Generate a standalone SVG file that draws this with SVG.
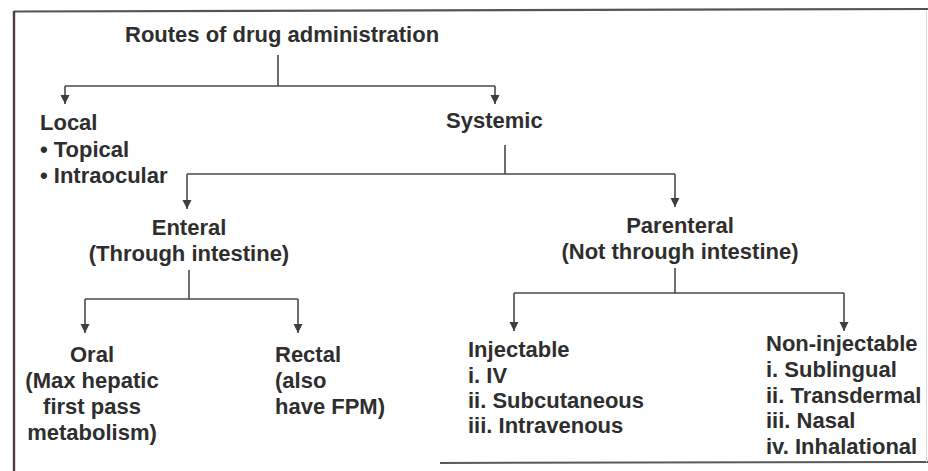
<svg xmlns="http://www.w3.org/2000/svg" width="928" height="471" viewBox="0 0 928 471">
  <style>
    text { font-family: "Liberation Sans", Arial, Helvetica, sans-serif; font-size: 22px; font-weight: bold; fill: #2e2e2e; }
    .c { text-anchor: middle; }
    .ln { fill: none; stroke: #4a4a4a; stroke-width: 1.6; }
    .arr { fill: none; stroke: #4a4a4a; stroke-width: 1.6; marker-end: url(#ah); }
  </style>
  <defs>
    <marker id="ah" markerUnits="userSpaceOnUse" markerWidth="12" markerHeight="12" viewBox="0 0 12 12" refX="11" refY="6" orient="auto">
      <path d="M2,1.5 L2,10.5 L11,6 Z" fill="#3e3e3e"/>
    </marker>
  </defs>
  <rect x="0" y="0" width="928" height="471" fill="#ffffff"/>
  <g id="frame">
    <line x1="14" y1="11.5" x2="928" y2="9" stroke="#555" stroke-width="2.2"/>
    <line x1="14" y1="11" x2="14" y2="471" stroke="#4e3c44" stroke-width="2.4"/>
    <line x1="440" y1="463" x2="928" y2="462" stroke="#5a5a5a" stroke-width="2"/>
    <line x1="926.5" y1="10" x2="926.5" y2="462" stroke="#d8d8d8" stroke-width="1"/>
  </g>
  <g id="connectors">
    <path class="ln" d="M278,55 V86 M65,86 H495"/>
    <path class="arr" d="M65,86 V104"/>
    <path class="arr" d="M495,86 V104"/>
    <path class="ln" d="M505,145 V174 M187,174 H675"/>
    <path class="arr" d="M187,174 V209"/>
    <path class="arr" d="M675,174 V207"/>
    <path class="ln" d="M189,270 V299 M85,299 H298"/>
    <path class="arr" d="M85,299 V333"/>
    <path class="arr" d="M298,299 V333"/>
    <path class="ln" d="M675,268 V293 M514,293 H844"/>
    <path class="arr" d="M514,293 V331"/>
    <path class="arr" d="M844,293 V331"/>
  </g>
  <g id="root">
    <text x="125" y="42">Routes of drug administration</text>
  </g>
  <g id="local">
    <text x="40" y="130">Local</text>
    <text x="40" y="157">• Topical</text>
    <text x="40" y="183">• Intraocular</text>
  </g>
  <g id="systemic">
    <text x="446" y="128">Systemic</text>
  </g>
  <g id="enteral">
    <text class="c" x="189" y="235">Enteral</text>
    <text class="c" x="189" y="261">(Through intestine)</text>
  </g>
  <g id="parenteral">
    <text class="c" x="680" y="233">Parenteral</text>
    <text class="c" x="680" y="259">(Not through intestine)</text>
  </g>
  <g id="oral">
    <text class="c" x="92" y="362">Oral</text>
    <text class="c" x="92" y="388">(Max hepatic</text>
    <text class="c" x="92" y="414">first pass</text>
    <text class="c" x="92" y="440">metabolism)</text>
  </g>
  <g id="rectal">
    <text x="275" y="362">Rectal</text>
    <text x="275" y="388">(also</text>
    <text x="275" y="414">have FPM)</text>
  </g>
  <g id="injectable">
    <text x="468" y="357">Injectable</text>
    <text x="468" y="383">i. IV</text>
    <text x="468" y="408">ii. Subcutaneous</text>
    <text x="468" y="433">iii. Intravenous</text>
  </g>
  <g id="noninjectable">
    <text x="766" y="351">Non-injectable</text>
    <text x="766" y="377">i. Sublingual</text>
    <text x="766" y="403">ii. Transdermal</text>
    <text x="766" y="428">iii. Nasal</text>
    <text x="766" y="454">iv. Inhalational</text>
  </g>
</svg>
